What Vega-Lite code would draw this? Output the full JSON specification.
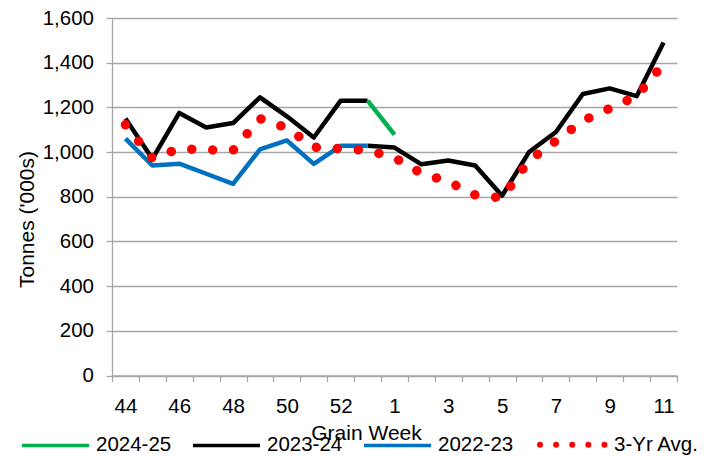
{
  "$schema": "https://vega.github.io/schema/vega-lite/v6.json",
  "autosize": {"type": "none"},
  "padding": {"left": 112, "top": 18, "right": 27, "bottom": 81.5},
  "width": 565,
  "height": 357.5,
  "config": {
    "font": "Liberation Sans",
    "view": {"stroke": null},
    "axis": {
      "labelFontSize": 20.5, "labelColor": "#000000", "titleFontSize": 21, "titleFontWeight": "normal",
      "titleColor": "#000000", "domainColor": "#a6a6a6", "tickColor": "#a6a6a6", "tickSize": 6,
      "domainWidth": 1.3, "tickWidth": 1.3, "gridColor": "#a6a6a6", "gridWidth": 1.3
    },
    "legend": {"labelFontSize": 20.5, "labelColor": "#000000"}
  },
  "data": {
    "values": [
      {"week": "44", "value": 1150, "series": "2023-24", "seg": "a"},
      {"week": "45", "value": 970, "series": "2023-24", "seg": "a"},
      {"week": "46", "value": 1175, "series": "2023-24", "seg": "a"},
      {"week": "47", "value": 1110, "series": "2023-24", "seg": "a"},
      {"week": "48", "value": 1130, "series": "2023-24", "seg": "a"},
      {"week": "49", "value": 1245, "series": "2023-24", "seg": "a"},
      {"week": "50", "value": 1160, "series": "2023-24", "seg": "a"},
      {"week": "51", "value": 1065, "series": "2023-24", "seg": "a"},
      {"week": "52", "value": 1230, "series": "2023-24", "seg": "a"},
      {"week": "53", "value": 1230, "series": "2023-24", "seg": "a"},
      {"week": "53", "value": 1028, "series": "2023-24", "seg": "b"},
      {"week": "1", "value": 1020, "series": "2023-24", "seg": "b"},
      {"week": "2", "value": 945, "series": "2023-24", "seg": "b"},
      {"week": "3", "value": 962, "series": "2023-24", "seg": "b"},
      {"week": "4", "value": 940, "series": "2023-24", "seg": "b"},
      {"week": "5", "value": 805, "series": "2023-24", "seg": "b"},
      {"week": "6", "value": 1000, "series": "2023-24", "seg": "b"},
      {"week": "7", "value": 1090, "series": "2023-24", "seg": "b"},
      {"week": "8", "value": 1260, "series": "2023-24", "seg": "b"},
      {"week": "9", "value": 1285, "series": "2023-24", "seg": "b"},
      {"week": "10", "value": 1250, "series": "2023-24", "seg": "b"},
      {"week": "11", "value": 1490, "series": "2023-24", "seg": "b"},
      {"week": "53", "value": 1230, "series": "2024-25", "seg": "g"},
      {"week": "1", "value": 1078, "series": "2024-25", "seg": "g"},
      {"week": "44", "value": 1060, "series": "2022-23", "seg": "c"},
      {"week": "45", "value": 940, "series": "2022-23", "seg": "c"},
      {"week": "46", "value": 948, "series": "2022-23", "seg": "c"},
      {"week": "47", "value": 903, "series": "2022-23", "seg": "c"},
      {"week": "48", "value": 858, "series": "2022-23", "seg": "c"},
      {"week": "49", "value": 1012, "series": "2022-23", "seg": "c"},
      {"week": "50", "value": 1052, "series": "2022-23", "seg": "c"},
      {"week": "51", "value": 947, "series": "2022-23", "seg": "c"},
      {"week": "52", "value": 1028, "series": "2022-23", "seg": "c"},
      {"week": "53", "value": 1028, "series": "2022-23", "seg": "c"},
      {"week": "44", "value": 1122, "series": "3-Yr Avg.", "seg": "r"},
      {"week": "45", "value": 972, "series": "3-Yr Avg.", "seg": "r"},
      {"week": "46", "value": 1015, "series": "3-Yr Avg.", "seg": "r"},
      {"week": "47", "value": 1010, "series": "3-Yr Avg.", "seg": "r"},
      {"week": "48", "value": 1008, "series": "3-Yr Avg.", "seg": "r"},
      {"week": "49", "value": 1150, "series": "3-Yr Avg.", "seg": "r"},
      {"week": "50", "value": 1108, "series": "3-Yr Avg.", "seg": "r"},
      {"week": "51", "value": 1022, "series": "3-Yr Avg.", "seg": "r"},
      {"week": "52", "value": 1015, "series": "3-Yr Avg.", "seg": "r"},
      {"week": "53", "value": 1008, "series": "3-Yr Avg.", "seg": "r"},
      {"week": "1", "value": 975, "series": "3-Yr Avg.", "seg": "r"},
      {"week": "2", "value": 905, "series": "3-Yr Avg.", "seg": "r"},
      {"week": "3", "value": 868, "series": "3-Yr Avg.", "seg": "r"},
      {"week": "4", "value": 808, "series": "3-Yr Avg.", "seg": "r"},
      {"week": "5", "value": 795, "series": "3-Yr Avg.", "seg": "r"},
      {"week": "6", "value": 962, "series": "3-Yr Avg.", "seg": "r"},
      {"week": "7", "value": 1050, "series": "3-Yr Avg.", "seg": "r"},
      {"week": "8", "value": 1140, "series": "3-Yr Avg.", "seg": "r"},
      {"week": "9", "value": 1195, "series": "3-Yr Avg.", "seg": "r"},
      {"week": "10", "value": 1250, "series": "3-Yr Avg.", "seg": "r"},
      {"week": "11", "value": 1395, "series": "3-Yr Avg.", "seg": "r"}
    ]
  },
  "encoding": {
    "x": {
      "field": "week", "type": "ordinal", "bandPosition": 0.5,
      "sort": ["44","45","46","47","48","49","50","51","52","53","1","2","3","4","5","6","7","8","9","10","11"],
      "scale": {"type": "band", "paddingInner": 0, "paddingOuter": 0},
      "axis": {
        "title": "Grain Week", "labelAngle": 0, "tickBand": "extent", "grid": false,
        "labelExpr": "indexof(['44','46','48','50','52','1','3','5','7','9','11'], datum.label) >= 0 ? datum.label : ''",
        "labelBaseline": "alphabetic", "labelPadding": 31,
        "titleX": 254, "titleY": 64, "titleBaseline": "alphabetic"
      }
    },
    "y": {
      "field": "value", "type": "quantitative",
      "scale": {"domain": [0, 1600], "nice": false},
      "axis": {
        "title": "Tonnes ('000s)", "values": [0,200,400,600,800,1000,1200,1400,1600], "format": ",.0f",
        "labelPadding": 12.5, "titleX": -79, "titleY": 201, "titleBaseline": "alphabetic", "titleAlign": "center"
      }
    },
    "color": {
      "field": "series", "type": "nominal",
      "scale": {"domain": ["2024-25","2023-24","2022-23","3-Yr Avg."], "range": ["#00b050","#000000","#0070c0","#ff0000"]},
      "legend": {
        "title": null, "orient": "none", "direction": "horizontal", "legendX": -90, "legendY": 416,
        "symbolType": "stroke", "symbolSize": 4489, "symbolStrokeWidth": 3.5, "labelOffset": 7,
        "columnPadding": 14, "padding": 0, "symbolOffset": 0,
        "encode": {
          "symbols": {"update": {
            "x": {"value": 33.5},
            "strokeDash": {"signal": "datum.value === '3-Yr Avg.' ? [0.01, 16.1] : [1, 0]"},
            "strokeWidth": {"signal": "datum.value === '3-Yr Avg.' ? 6 : 3.5"},
            "strokeCap": {"signal": "datum.value === '3-Yr Avg.' ? 'round' : 'butt'"}
          }},
          "labels": {"update": {"x": {"value": 74}}}
        }
      }
    }
  },
  "layer": [
    {
      "transform": [{"filter": "datum.series === '2022-23' || datum.series === '2023-24'"}],
      "mark": {"type": "line", "strokeWidth": 4.5, "strokeJoin": "round"},
      "encoding": {"detail": {"field": "seg", "type": "nominal"}}
    },
    {
      "transform": [{"filter": "datum.series === '2024-25'"}],
      "mark": {"type": "line", "strokeWidth": 4.5, "strokeJoin": "round"},
      "encoding": {}
    },
    {
      "transform": [{"filter": "datum.series === '3-Yr Avg.'"}],
      "mark": {"type": "line", "strokeWidth": 9.5, "strokeDash": [0.01, 21], "strokeCap": "round"},
      "encoding": {}
    }
  ]
}
